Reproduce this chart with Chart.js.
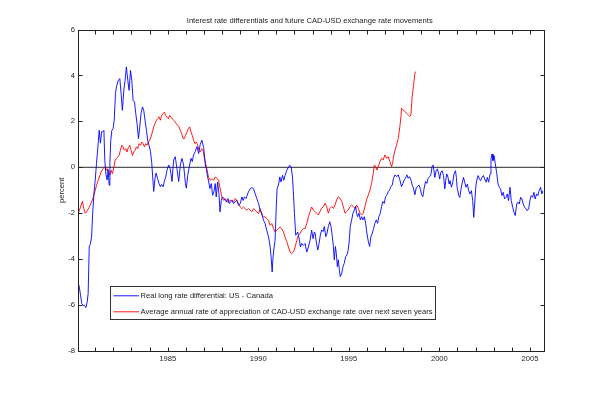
<!DOCTYPE html>
<html>
<head>
<meta charset="utf-8">
<script src="https://cdn.jsdelivr.net/npm/chart.js@4/dist/chart.umd.min.js"></script>
<style>
  html, body { margin: 0; padding: 0; background: #fff; }
  canvas { display: block; }
</style>
</head>
<body>
<canvas id="chart" width="600" height="394"></canvas>
<script>
// Real long rate differential: US - Canada (monthly)
const blueYears = [
  1980.05, 1980.12, 1980.19, 1980.26, 1980.34, 1980.41, 1980.48, 1980.56, 1980.61, 1980.67,
  1980.74, 1980.80, 1980.85, 1980.93, 1981.00, 1981.07, 1981.15, 1981.22, 1981.29, 1981.35,
  1981.40, 1981.48, 1981.53, 1981.59, 1981.66, 1981.71, 1981.77, 1981.81, 1981.86, 1981.92,
  1981.99, 1982.05, 1982.12, 1982.17, 1982.27, 1982.36, 1982.43, 1982.50, 1982.58, 1982.65,
  1982.72, 1982.80, 1982.87, 1982.95, 1983.02, 1983.09, 1983.17, 1983.24, 1983.31, 1983.39,
  1983.46, 1983.53, 1983.61, 1983.68, 1983.75, 1983.83, 1983.90, 1983.97, 1984.05, 1984.12,
  1984.19, 1984.23, 1984.30, 1984.36, 1984.45, 1984.52, 1984.60, 1984.67, 1984.75, 1984.82,
  1984.90, 1984.97, 1985.06, 1985.15, 1985.24, 1985.33, 1985.42, 1985.51, 1985.61, 1985.70,
  1985.79, 1985.88, 1985.98, 1986.03, 1986.11, 1986.21, 1986.29, 1986.36, 1986.43, 1986.52,
  1986.62, 1986.71, 1986.80, 1986.89, 1986.99, 1987.08, 1987.13, 1987.21, 1987.26, 1987.33,
  1987.41, 1987.48, 1987.55, 1987.63, 1987.68, 1987.76, 1987.83, 1987.89, 1987.96, 1988.03,
  1988.11, 1988.18, 1988.25, 1988.33, 1988.40, 1988.47, 1988.55, 1988.64, 1988.73, 1988.82,
  1988.91, 1989.01, 1989.10, 1989.17, 1989.24, 1989.32, 1989.39, 1989.46, 1989.56, 1989.65,
  1989.74, 1989.83, 1989.92, 1990.02, 1990.11, 1990.20, 1990.29, 1990.38, 1990.47, 1990.57,
  1990.66, 1990.71, 1990.77, 1990.82, 1990.88, 1990.93, 1990.99, 1991.04, 1991.12, 1991.19,
  1991.26, 1991.34, 1991.41, 1991.48, 1991.58, 1991.67, 1991.74, 1991.82, 1991.89, 1991.94,
  1992.00, 1992.07, 1992.13, 1992.18, 1992.26, 1992.33, 1992.40, 1992.49, 1992.59, 1992.68,
  1992.77, 1992.86, 1992.95, 1993.03, 1993.10, 1993.14, 1993.23, 1993.29, 1993.36, 1993.43,
  1993.50, 1993.58, 1993.65, 1993.73, 1993.80, 1993.87, 1993.95, 1994.02, 1994.09, 1994.15,
  1994.20, 1994.26, 1994.31, 1994.37, 1994.42, 1994.48, 1994.53, 1994.61, 1994.68, 1994.75,
  1994.83, 1994.90, 1994.97, 1995.03, 1995.08, 1995.16, 1995.23, 1995.31, 1995.38, 1995.43,
  1995.49, 1995.56, 1995.64, 1995.71, 1995.78, 1995.86, 1995.93, 1996.00, 1996.08, 1996.15,
  1996.22, 1996.30, 1996.37, 1996.44, 1996.52, 1996.59, 1996.66, 1996.74, 1996.81, 1996.88,
  1996.96, 1997.03, 1997.11, 1997.18, 1997.25, 1997.33, 1997.40, 1997.47, 1997.55, 1997.64,
  1997.73, 1997.82, 1997.91, 1997.99, 1998.06, 1998.13, 1998.21, 1998.28, 1998.35, 1998.43,
  1998.50, 1998.57, 1998.65, 1998.72, 1998.79, 1998.87, 1998.94, 1999.02, 1999.09, 1999.16,
  1999.24, 1999.31, 1999.38, 1999.46, 1999.53, 1999.60, 1999.66, 1999.75, 1999.82, 1999.89,
  1999.97, 2000.02, 2000.08, 2000.15, 2000.23, 2000.30, 2000.35, 2000.41, 2000.48, 2000.54,
  2000.59, 2000.67, 2000.74, 2000.81, 2000.89, 2000.94, 2000.98, 2001.07, 2001.13, 2001.18,
  2001.25, 2001.33, 2001.40, 2001.47, 2001.55, 2001.62, 2001.69, 2001.77, 2001.84, 2001.90,
  2001.95, 2002.01, 2002.06, 2002.14, 2002.21, 2002.28, 2002.36, 2002.43, 2002.50, 2002.58,
  2002.65, 2002.72, 2002.80, 2002.85, 2002.91, 2002.96, 2003.02, 2003.09, 2003.16, 2003.24,
  2003.31, 2003.38, 2003.46, 2003.53, 2003.60, 2003.68, 2003.75, 2003.82, 2003.90, 2003.97,
  2004.05, 2004.12, 2004.19, 2004.27, 2004.34, 2004.41, 2004.49, 2004.56, 2004.63, 2004.71,
  2004.78, 2004.85, 2004.93, 2005.00, 2005.07, 2005.15, 2005.22, 2005.29, 2005.37, 2005.44,
  2005.51, 2005.59, 2005.66, 2005.72
];
const blueValues = [
  -5.00, -5.21, -5.57, -5.94, -6.01, -6.01, -6.11, -5.86, -5.50, -3.47,
  -3.32, -3.03, -2.16, -1.15, -0.57, 0.16, 0.89, 1.61, 1.05, 1.55,
  1.54, 1.61, 0.30, -0.30, -0.55, -0.10, -0.78, 0.20, 1.18, 1.61,
  1.68, 2.05, 3.21, 3.50, 3.79, 3.86, 3.21, 2.48, 3.35, 3.79,
  4.37, 3.79, 3.35, 4.22, 3.79, 2.92, 2.84, 2.34, 1.90, 1.25,
  1.76, 2.34, 2.63, 2.48, 2.05, 1.60, 1.15, 0.95, 0.70, 0.20,
  -0.60, -1.05, -0.50, -0.25, -0.50, -0.70, -0.85, -0.75, -0.85, -0.60,
  -0.40, -0.10, 0.10, -0.10, -0.62, 0.32, 0.46, -0.05, -0.62, 0.10,
  0.39, 0.10, -0.70, -0.91, -0.35, 0.10, 0.39, 0.25, 0.54, 0.68,
  0.90, 0.60, 1.00, 1.18, 0.85, 0.10, -0.04, -0.45, -0.60, -0.93,
  -0.71, -1.22, -1.07, -0.71, -1.29, -0.64, -1.15, -1.94, -1.44, -1.29,
  -1.36, -1.44, -1.51, -1.36, -1.58, -1.51, -1.44, -1.58, -1.51, -1.44,
  -1.65, -1.58, -1.29, -1.44, -1.29, -1.36, -1.22, -1.07, -0.93, -0.89,
  -0.93, -1.15, -1.36, -1.58, -1.87, -2.02, -2.31, -2.45, -2.74, -3.03,
  -3.47, -3.90, -4.56, -3.90, -3.47, -3.18, -1.87, -0.93, -0.78, -0.42,
  -0.64, -0.35, -0.57, -0.35, -0.13, 0.01, 0.09, 0.01, -0.42, -1.07,
  -2.02, -2.96, -2.89, -2.82, -3.11, -3.47, -3.32, -3.40, -3.32, -3.69,
  -3.47, -3.18, -2.74, -3.11, -2.82, -2.87, -3.38, -3.60, -3.31, -2.95,
  -2.73, -2.80, -2.58, -3.02, -2.87, -2.58, -2.37, -2.58, -3.02, -3.45,
  -4.03, -3.45, -3.74, -4.33, -4.03, -4.47, -4.76, -4.62, -4.33, -4.18,
  -3.89, -3.82, -3.60, -3.16, -2.58, -2.29, -2.00, -1.86, -1.71, -2.00,
  -2.15, -2.00, -2.29, -2.15, -2.29, -2.15, -2.44, -2.87, -3.24, -3.45,
  -3.02, -2.87, -2.66, -2.44, -2.29, -2.44, -2.15, -2.00, -1.71, -1.49,
  -1.57, -1.28, -1.20, -1.06, -0.99, -0.84, -0.77, -0.48, -0.33, -0.41,
  -0.33, -0.55, -0.84, -0.70, -0.55, -0.48, -0.33, -0.48, -0.41, -0.55,
  -0.77, -0.91, -1.20, -0.91, -0.84, -0.77, -0.91, -1.20, -1.28, -0.91,
  -0.62, -0.70, -0.48, -0.41, -0.33, 0.03, 0.10, -0.44, -0.15, -0.07,
  -0.29, -0.51, -0.22, -0.15, -0.36, -0.94, -0.58, -0.29, -0.44, -0.73,
  -0.58, -0.87, -0.65, -0.29, -0.15, -0.44, -0.87, -1.23, -1.31, -1.02,
  -0.73, -0.44, -0.65, -0.87, -0.73, -1.02, -1.16, -1.02, -1.45, -2.18,
  -1.60, -0.87, -0.58, -0.36, -0.51, -0.58, -0.44, -0.36, -0.51, -0.65,
  -0.44, -0.65, -0.29, 0.36, 0.58, 0.29, 0.51, 0.15, -0.22, -0.73,
  -0.87, -0.94, -1.23, -1.09, -1.38, -1.31, -1.16, -1.45, -0.87, -1.45,
  -1.74, -1.96, -2.10, -1.60, -1.52, -1.60, -1.31, -1.38, -1.60, -1.74,
  -1.81, -1.89, -1.81, -1.45, -1.23, -1.31, -1.09, -1.38, -1.16, -1.23,
  -1.02, -0.87, -1.16, -1.02
];

// Average annual rate of appreciation of CAD-USD over next seven years
const redYears = [
  1980.05, 1980.12, 1980.22, 1980.30, 1980.37, 1980.45, 1980.55, 1980.66, 1980.78, 1980.89,
  1980.98, 1981.07, 1981.16, 1981.26, 1981.35, 1981.44, 1981.53, 1981.59, 1981.66, 1981.73,
  1981.81, 1981.88, 1981.95, 1982.03, 1982.10, 1982.17, 1982.25, 1982.32, 1982.39, 1982.47,
  1982.54, 1982.61, 1982.69, 1982.76, 1982.83, 1982.91, 1982.98, 1983.06, 1983.13, 1983.20,
  1983.28, 1983.35, 1983.42, 1983.50, 1983.57, 1983.64, 1983.72, 1983.79, 1983.86, 1983.94,
  1984.01, 1984.08, 1984.16, 1984.23, 1984.30, 1984.38, 1984.45, 1984.52, 1984.60, 1984.67,
  1984.75, 1984.82, 1984.89, 1984.97, 1985.04, 1985.11, 1985.19, 1985.26, 1985.33, 1985.41,
  1985.48, 1985.55, 1985.63, 1985.70, 1985.77, 1985.85, 1985.92, 1985.99, 1986.07, 1986.14,
  1986.21, 1986.29, 1986.36, 1986.43, 1986.51, 1986.58, 1986.66, 1986.73, 1986.80, 1986.88,
  1986.95, 1987.02, 1987.10, 1987.17, 1987.26, 1987.35, 1987.44, 1987.54, 1987.63, 1987.72,
  1987.81, 1987.90, 1987.99, 1988.09, 1988.18, 1988.27, 1988.36, 1988.45, 1988.55, 1988.64,
  1988.73, 1988.82, 1988.91, 1989.01, 1989.10, 1989.19, 1989.28, 1989.37, 1989.46, 1989.56,
  1989.65, 1989.74, 1989.83, 1989.92, 1990.02, 1990.11, 1990.20, 1990.29, 1990.38, 1990.47,
  1990.57, 1990.66, 1990.75, 1990.84, 1990.93, 1991.02, 1991.12, 1991.21, 1991.30, 1991.39,
  1991.48, 1991.58, 1991.67, 1991.76, 1991.85, 1991.94, 1992.04, 1992.13, 1992.22, 1992.31,
  1992.40, 1992.49, 1992.59, 1992.68, 1992.77, 1992.86, 1992.95, 1993.05, 1993.14, 1993.23,
  1993.32, 1993.41, 1993.50, 1993.60, 1993.69, 1993.78, 1993.87, 1993.96, 1994.06, 1994.15,
  1994.24, 1994.33, 1994.42, 1994.52, 1994.61, 1994.70, 1994.79, 1994.88, 1994.97, 1995.07,
  1995.16, 1995.25, 1995.34, 1995.43, 1995.53, 1995.62, 1995.71, 1995.80, 1995.89, 1995.98,
  1996.08, 1996.17, 1996.26, 1996.35, 1996.41, 1996.48, 1996.55, 1996.63, 1996.72, 1996.81,
  1996.90, 1996.99, 1997.09, 1997.18, 1997.27, 1997.36, 1997.42, 1997.47, 1997.55, 1997.64,
  1997.73, 1997.82, 1997.88, 1997.91, 1998.00, 1998.10, 1998.19, 1998.28, 1998.37, 1998.43,
  1998.50, 1998.59, 1998.65, 1998.70
];
const redValues = [
  -1.98, -1.90, -1.65, -1.48, -1.80, -2.00, -1.90, -1.75, -1.55, -1.32,
  -1.07, -0.80, -0.57, -0.35, -0.15, -0.06, 0.02, -0.13, -0.06, -0.20,
  -0.35, -0.13, -0.28, 0.01, 0.30, 0.38, 0.45, 0.52, 0.74, 0.96,
  0.89, 0.74, 0.81, 0.67, 0.86, 0.96, 0.74, 0.52, 0.67, 0.74,
  0.89, 0.81, 1.03, 0.96, 1.10, 1.03, 0.89, 1.03, 0.96, 1.10,
  1.18, 1.32, 1.54, 1.76, 1.90, 2.05, 2.12, 2.20, 2.05, 2.26,
  2.34, 2.40, 2.26, 2.18, 2.11, 2.26, 2.18, 2.11, 2.05, 1.98,
  1.90, 1.83, 1.76, 1.61, 1.47, 1.25, 1.25, 1.39, 1.54, 1.68,
  1.76, 1.54, 1.39, 1.18, 1.03, 1.10, 0.96, 0.74, 0.67, 0.81,
  0.74, 0.45, 0.16, -0.10, -0.45, -0.57, -0.49, -0.57, -0.42, -0.49,
  -0.57, -0.93, -1.29, -1.44, -1.36, -1.51, -1.51, -1.44, -1.44, -1.51,
  -1.36, -1.44, -1.58, -1.73, -1.80, -1.73, -1.80, -1.87, -1.80, -1.87,
  -1.94, -1.80, -1.87, -1.94, -2.02, -1.80, -2.09, -2.16, -2.16, -2.24,
  -2.31, -2.53, -2.45, -2.67, -2.82, -2.74, -2.67, -2.60, -2.67, -2.82,
  -3.03, -3.25, -3.47, -3.69, -3.76, -3.69, -3.47, -3.18, -2.96, -2.89,
  -2.74, -2.67, -2.67, -2.45, -2.16, -1.94, -1.73, -1.87, -1.94, -2.00,
  -2.08, -1.93, -1.79, -1.71, -1.57, -1.71, -2.00, -1.79, -1.71, -1.79,
  -1.64, -1.42, -1.28, -1.35, -1.49, -1.71, -2.00, -1.93, -1.86, -1.71,
  -1.64, -1.71, -1.79, -1.64, -1.79, -2.00, -2.08, -2.00, -1.71, -1.42,
  -1.20, -0.99, -0.70, -0.26, 0.10, 0.03, -0.12, 0.03, 0.25, 0.39,
  0.32, 0.54, 0.39, 0.46, 0.25, 0.03, 0.17, 0.46, 0.75, 0.97,
  1.26, 1.77, 2.21, 2.57, 2.50, 2.42, 2.35, 2.28, 2.21, 2.28,
  3.08, 3.66, 4.09, 4.17
];

const yTicks = [-8, -6, -4, -2, 0, 2, 4, 6];
const xTickYears = [1981, 1982, 1983, 1984, 1985, 1986, 1987, 1988, 1989, 1990,
  1991, 1992, 1993, 1994, 1995, 1996, 1997, 1998, 1999, 2000,
  2001, 2002, 2003, 2004, 2005];
const xLabelYears = [1985, 1990, 1995, 2000, 2005];

const chartTitle = 'Interest rate differentials and future CAD-USD exchange rate movements';
const yTitle = 'percent';
const blueLabel = 'Real long rate differential: US - Canada';
const redLabel = 'Average annual rate of appreciation of CAD-USD exchange rate over next seven years';

const FONT_FAMILY = '"Liberation Sans", Arial, sans-serif';
const FONT = '7.6px ' + FONT_FAMILY;
const TEXT_COLOR = '#222';

function toPoints(xs, ys) {
  return xs.map((x, i) => ({ x: x, y: ys[i] }));
}

// axes box, inward ticks, zero line, title, y label and legend (matlab look)
const matlabFrame = {
  id: 'matlabFrame',
  beforeDatasetsDraw(chart) {
    const { ctx, chartArea: a, scales } = chart;
    const y0 = scales.y.getPixelForValue(0);
    ctx.save();
    ctx.strokeStyle = '#555';
    ctx.lineWidth = 1.2;
    ctx.beginPath();
    ctx.moveTo(a.left, y0);
    ctx.lineTo(a.right, y0);
    ctx.stroke();
    ctx.restore();
  },
  afterDraw(chart) {
    const { ctx, chartArea: a, scales } = chart;
    const L = Math.round(a.left) + 0.5, R = Math.round(a.right) + 0.5;
    const T = Math.round(a.top) + 0.5, B = Math.round(a.bottom) + 0.5;
    const tick = 4;
    ctx.save();
    ctx.strokeStyle = '#222';
    ctx.lineWidth = 1;
    ctx.strokeRect(L, T, R - L, B - T);

    ctx.beginPath();
    xTickYears.forEach(v => {
      const px = Math.round(scales.x.getPixelForValue(v)) + 0.5;
      ctx.moveTo(px, B); ctx.lineTo(px, B - tick);
      ctx.moveTo(px, T); ctx.lineTo(px, T + tick);
    });
    yTicks.forEach(v => {
      const py = Math.round(scales.y.getPixelForValue(v)) + 0.5;
      ctx.moveTo(L, py); ctx.lineTo(L + tick, py);
      ctx.moveTo(R, py); ctx.lineTo(R - tick, py);
    });
    ctx.stroke();

    // title
    ctx.fillStyle = TEXT_COLOR;
    ctx.font = FONT;
    ctx.textAlign = 'center';
    ctx.textBaseline = 'middle';
    ctx.fillText(chartTitle, (a.left + a.right) / 2 - 1, 21);

    // y axis label
    ctx.save();
    ctx.translate(62, (a.top + a.bottom) / 2);
    ctx.rotate(-Math.PI / 2);
    ctx.fillText(yTitle, 0, 0);
    ctx.restore();

    // legend
    const bx = 110.5, by = 286.5, bw = 325, bh = 33;
    ctx.fillStyle = '#fff';
    ctx.fillRect(bx, by, bw, bh);
    ctx.strokeStyle = '#333';
    ctx.strokeRect(bx, by, bw, bh);
    chart.data.datasets.forEach((ds, i) => {
      const ly = 295.5 + i * 16;
      ctx.strokeStyle = ds.borderColor;
      ctx.lineWidth = 0.9;
      ctx.beginPath();
      ctx.moveTo(113.5, ly + 0.3);
      ctx.lineTo(139, ly + 0.3);
      ctx.stroke();
      ctx.fillStyle = TEXT_COLOR;
      ctx.textAlign = 'left';
      ctx.fillText(ds.label, 140.5, ly);
    });
    ctx.restore();
  }
};

new Chart(document.getElementById('chart'), {
  type: 'line',
  data: {
    datasets: [
      {
        label: blueLabel,
        data: toPoints(blueYears, blueValues),
        borderColor: '#0000ff',
        borderWidth: 0.9,
        pointRadius: 0,
        tension: 0,
        fill: false
      },
      {
        label: redLabel,
        data: toPoints(redYears, redValues),
        borderColor: '#ff0000',
        borderWidth: 0.9,
        pointRadius: 0,
        tension: 0,
        fill: false
      }
    ]
  },
  options: {
    responsive: false,
    animation: false,
    layout: { padding: { top: 29.5, right: 56.5, left: 0, bottom: 0 } },
    plugins: {
      legend: { display: false },
      tooltip: { enabled: false },
      title: { display: false }
    },
    scales: {
      x: {
        type: 'linear',
        min: 1980.05,
        max: 2005.75,
        afterBuildTicks: s => { s.ticks = xTickYears.map(v => ({ value: v })); },
        afterFit: s => { s.height = 43; },
        ticks: {
          autoSkip: false,
          maxRotation: 0,
          padding: 3,
          color: TEXT_COLOR,
          font: { family: FONT_FAMILY, size: 7.6 },
          callback: v => xLabelYears.includes(v) ? String(v) : ''
        },
        grid: { display: false, drawTicks: false },
        border: { display: false }
      },
      y: {
        min: -8,
        max: 6,
        afterBuildTicks: s => { s.ticks = yTicks.map(v => ({ value: v })); },
        afterFit: s => { s.width = 78; },
        ticks: {
          padding: 3,
          color: TEXT_COLOR,
          font: { family: FONT_FAMILY, size: 7.6 },
          callback: v => String(v)
        },
        grid: { display: false, drawTicks: false },
        border: { display: false }
      }
    }
  },
  plugins: [matlabFrame]
});
</script>
</body>
</html>
